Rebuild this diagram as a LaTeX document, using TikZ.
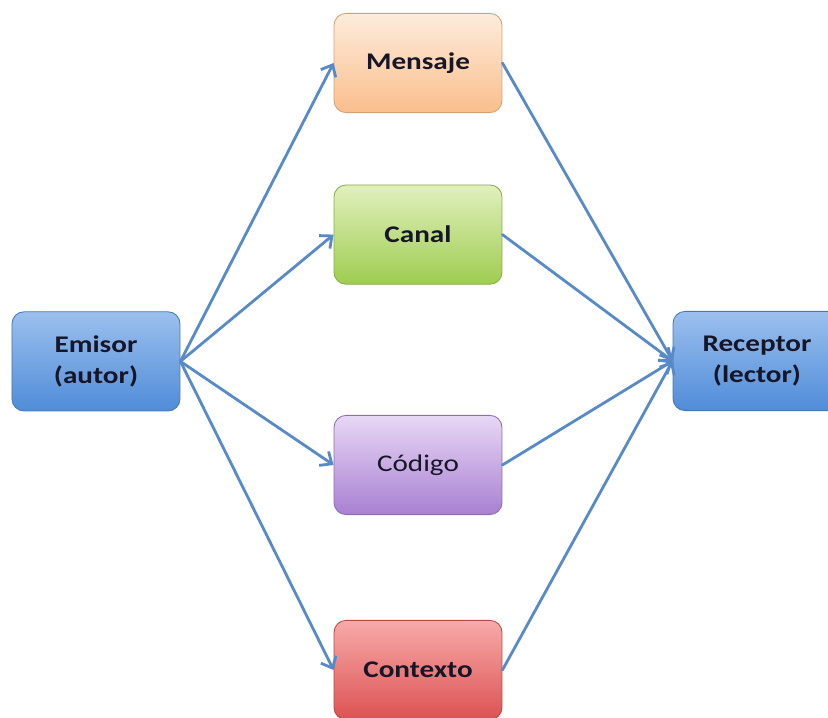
\documentclass[tikz,border=0pt]{standalone}
\usepackage{fontspec}
\setmainfont{Carlito}
\newfontfamily\cajafont[FakeStretch=1.22]{Carlito}
\usetikzlibrary{arrows.meta}

\definecolor{flechaazul}{RGB}{88,138,200}
\definecolor{azularriba}{RGB}{155,192,238}
\definecolor{azulabajo}{RGB}{80,140,216}
\definecolor{naranjaarriba}{RGB}{253,236,220}
\definecolor{naranjaabajo}{RGB}{250,190,140}
\definecolor{verdearriba}{RGB}{225,240,190}
\definecolor{verdeabajo}{RGB}{158,205,80}
\definecolor{moradoarriba}{RGB}{232,215,245}
\definecolor{moradoabajo}{RGB}{168,128,210}
\definecolor{rojoarriba}{RGB}{248,170,170}
\definecolor{rojoabajo}{RGB}{220,82,82}
\definecolor{textocaja}{RGB}{22,22,40}

\tikzset{
  caja/.style={rounded corners=0.3cm, minimum width=4.2cm, minimum height=2.48cm,
    align=center, text=textocaja, font=\cajafont\fontsize{17}{22}\selectfont, line width=0.6pt},
  azul/.style={caja, draw=azulabajo!85!black, top color=azularriba, bottom color=azulabajo},
  flecha/.style={->, flechaazul, line width=2pt}
}

\begin{document}
\begin{tikzpicture}[>={Straight Barb[length=2.4mm,width=4.2mm]}, line join=round, line cap=round]
	\useasboundingbox (0,0) rectangle (20.7,17.925);
	% emisor y receptor
	\node[azul] (emisor) at (2.4,8.89) {\bfseries Emisor\\\bfseries (autor)};
	\node[azul] (receptor) at (18.925,8.9) {\bfseries Receptor\\\bfseries (lector)};
	% elementos del centro
	\node[caja, draw=naranjaabajo!85!black, top color=naranjaarriba, bottom color=naranjaabajo] (mensaje) at (10.45,16.35) {\bfseries Mensaje};
	\node[caja, draw=verdeabajo!85!black, top color=verdearriba, bottom color=verdeabajo] (canal) at (10.45,12.06) {\bfseries Canal};
	\node[caja, draw=moradoabajo!85!black, top color=moradoarriba, bottom color=moradoabajo] (codigo) at (10.45,6.3) {Código};
	\node[caja, draw=rojoabajo!85!black, top color=rojoarriba, bottom color=rojoabajo] (contexto) at (10.45,1.175) {\bfseries Contexto};
	\foreach \n in {mensaje,canal,codigo,contexto}{
		\draw[flecha] (emisor.east) -- (\n.west);
		\draw[flecha] (\n.east) -- (receptor.west);
	}
\end{tikzpicture}
\end{document}
